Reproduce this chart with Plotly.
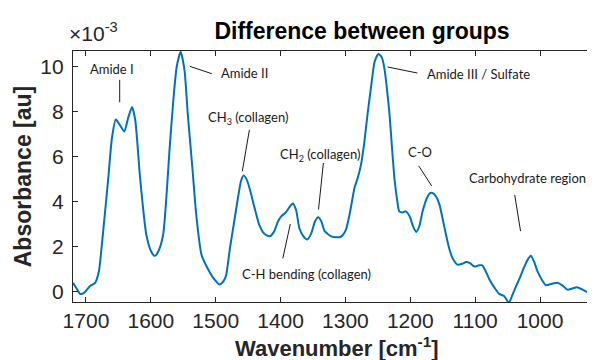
import plotly.graph_objects as go

# Wavenumber (cm^-1) and absorbance difference (x10^-3 au)
wavenumber = [1720, 1714, 1709, 1702, 1694, 1686, 1680, 1676, 1671, 1666, 1660, 1654, 1648, 1641,
              1635, 1629, 1624, 1617, 1612, 1607, 1600, 1594, 1588, 1581, 1576, 1571, 1565, 1560,
              1554, 1548, 1543, 1536, 1530, 1522, 1519, 1514, 1504, 1494, 1488, 1484, 1478, 1472,
              1466, 1461, 1457, 1452, 1448, 1440, 1433, 1425, 1417, 1410, 1404, 1399, 1392, 1386,
              1381, 1376, 1371, 1365, 1359, 1353, 1347, 1342, 1337, 1332, 1322, 1309, 1304, 1299,
              1293, 1286, 1281, 1276, 1271, 1266, 1260, 1255, 1249, 1244, 1240, 1236, 1232, 1228,
              1224, 1220, 1217, 1212, 1207, 1201, 1196, 1191, 1186, 1181, 1175, 1170, 1166, 1160,
              1155, 1150, 1145, 1140, 1135, 1130, 1127, 1120, 1114, 1108, 1102, 1099, 1094, 1089,
              1084, 1078, 1070, 1063, 1055, 1048, 1043, 1038, 1031, 1025, 1018, 1014, 1009, 1004,
              997, 991, 982, 973, 965, 958, 950, 943, 935, 927, 917, 907]
absorbance = [0.37, 0.10, -0.12, -0.05, 0.22, 0.37, 0.90, 1.92, 3.40, 4.90, 6.80, 7.63, 7.40, 7.10,
              7.70, 8.19, 7.60, 5.18, 3.70, 2.52, 1.80, 1.56, 1.80, 2.52, 4.20, 6.37, 8.60, 10.00,
              10.64, 9.80, 7.85, 5.50, 3.40, 1.63, 1.40, 1.10, 0.60, 0.30, 0.45, 0.70, 1.92, 3.00,
              4.10, 4.90, 5.15, 4.95, 4.60, 3.70, 2.96, 2.55, 2.44, 2.65, 3.10, 3.33, 3.50, 3.75,
              3.90, 3.60, 2.80, 2.45, 2.30, 2.55, 3.10, 3.29, 3.10, 2.67, 2.44, 2.40, 2.50, 2.75,
              3.50, 4.60, 5.04, 5.63, 6.60, 7.85, 9.20, 10.20, 10.55, 10.40, 9.92, 9.00, 7.85, 6.30,
              4.89, 4.00, 3.55, 3.50, 3.55, 3.33, 2.90, 2.63, 2.90, 3.55, 4.10, 4.35, 4.37, 4.20,
              3.85, 3.20, 2.52, 1.90, 1.48, 1.25, 1.18, 1.22, 1.30, 1.25, 1.11, 1.10, 1.15, 1.15,
              0.90, 0.52, 0.15, -0.12, -0.22, -0.52, -0.20, 0.15, 0.60, 1.04, 1.45, 1.58, 1.30, 0.89,
              0.50, 0.27, 0.33, 0.38, 0.25, 0.07, 0.12, 0.18, 0.08, -0.04, -0.15, -0.27]

x_ticks = [1700, 1600, 1500, 1400, 1300, 1200, 1100, 1000]
y_ticks = [0, 2, 4, 6, 8, 10]

# Band labels: text, label position (wavenumber, value), leader line (x0, y0, x1, y1)
band_labels = ["Amide I", "Amide II", "CH<sub>3</sub> (collagen)", "CH<sub>2</sub> (collagen)",
               "C-H bending (collagen)", "Amide III / Sulfate", "C-O", "Carbohydrate region"]
label_pos = [(1660, 9.88), (1456, 9.70), (1450, 7.70), (1339, 6.06),
             (1359.5, 0.77), (1095, 9.66), (1185, 6.19), (1019.5, 5.04)]
leader_lines = [(1648, 9.4, 1648, 8.4), (1540, 10.0, 1506, 9.67), (1448, 7.18, 1459, 5.33),
                (1334, 5.70, 1341.5, 3.63), (1385, 2.99, 1396.5, 1.46), (1235, 9.97, 1189, 9.70),
                (1187, 5.57, 1167, 4.68), (1039, 4.28, 1030, 2.67)]

axis_color = "#262626"

fig = go.Figure()
fig.add_trace(go.Scatter(
    x=wavenumber, y=absorbance, mode="lines",
    line=dict(color="#0072BD", width=2, shape="spline", smoothing=0.6),
    showlegend=False, hoverinfo="skip", cliponaxis=True,
))

for text, (lx, ly) in zip(band_labels, label_pos):
    fig.add_annotation(x=lx, y=ly, xref="x", yref="y", text=text, showarrow=False,
                       font=dict(family="Lato", size=13, color="#1a1a1a"),
                       xanchor="center", yanchor="middle")
for (x0, y0, x1, y1) in leader_lines:
    fig.add_shape(type="line", x0=x0, y0=y0, x1=x1, y1=y1, xref="x", yref="y",
                  line=dict(color="#1a1a1a", width=1))

fig.add_annotation(x=0, y=1, xref="paper", yref="paper", text="×10<sup>-3</sup>",
                   showarrow=False, xanchor="left", yanchor="bottom", xshift=-6, yshift=4,
                   font=dict(family="Arial, Liberation Sans", size=21, color=axis_color))

# x-axis title placed as annotation so it is not clipped at the bottom edge
fig.add_annotation(x=0.5, y=0, xref="paper", yref="paper",
                   text="<b>Wavenumber [cm<sup>-1</sup>]</b>", showarrow=False,
                   xanchor="center", yanchor="top", yshift=-29,
                   font=dict(family="Arial, Liberation Sans", size=22, color=axis_color))

fig.update_layout(
    width=595, height=360,
    margin=dict(l=65, r=2, t=43, b=66),
    paper_bgcolor="white", plot_bgcolor="white",
    title=dict(text="<b>Difference between groups</b>", x=0.595, xanchor="center",
               y=0.935, yanchor="middle",
               font=dict(family="Arial, Liberation Sans", size=23, color="black")),
    font=dict(family="Arial, Liberation Sans", color=axis_color),
)
fig.update_xaxes(
    range=[1720, 906], tickvals=x_ticks, ticktext=[str(v) for v in x_ticks],
    ticks="inside", ticklen=5, tickwidth=1.2, tickcolor=axis_color,
    showline=True, linecolor=axis_color, linewidth=1.3, mirror="ticks",
    showgrid=False, zeroline=False,
    tickfont=dict(size=21, color=axis_color),
)
fig.update_yaxes(
    range=[-0.48, 10.68], tickvals=y_ticks, ticktext=[str(v) for v in y_ticks],
    ticks="inside", ticklen=5, tickwidth=1.2, tickcolor=axis_color,
    showline=True, linecolor=axis_color, linewidth=1.3, mirror="ticks",
    showgrid=False, zeroline=False, ticklabelstandoff=4,
    tickfont=dict(size=21, color=axis_color),
    title=dict(text="<b>Absorbance [au]</b>", font=dict(size=23, color=axis_color), standoff=2),
)

fig.write_html("out.html")
